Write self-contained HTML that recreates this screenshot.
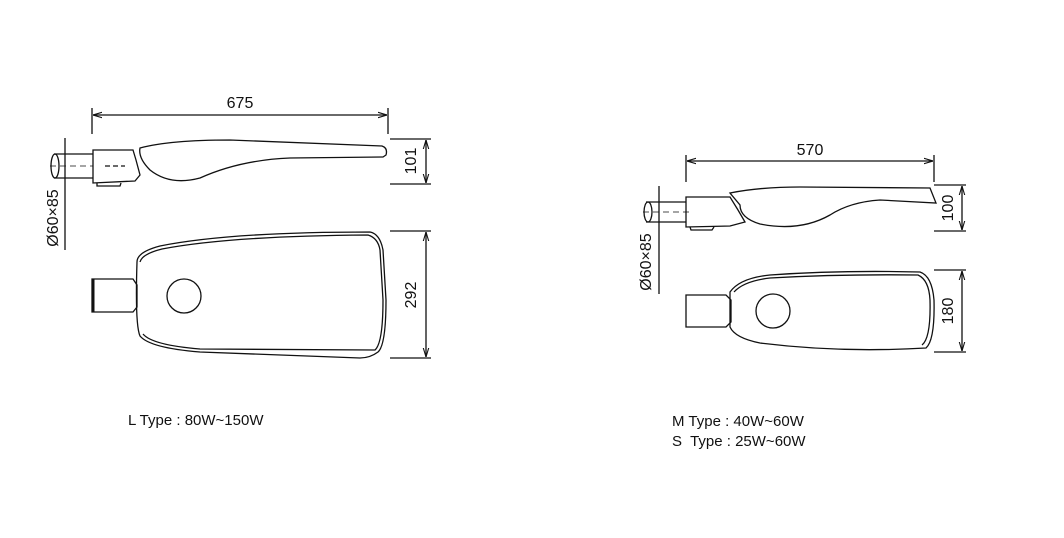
<!DOCTYPE html>
<html><head><style>
body{margin:0;background:#fff;width:1064px;height:538px;overflow:hidden}
svg{display:block}
text{font-family:"Liberation Sans",sans-serif;fill:#111}
</style></head><body>
<svg width="1064" height="538" viewBox="0 0 1064 538" xmlns="http://www.w3.org/2000/svg">
<defs><marker id="a" viewBox="0 0 10 10" refX="10" refY="5" markerWidth="7" markerHeight="7" orient="auto-start-reverse"><path d="M0,2 L10,5 L0,8" fill="none" stroke="#111" stroke-width="1.2"/></marker></defs>
<g stroke="#111" stroke-width="1.3" fill="none">
<line x1="92" y1="108" x2="92" y2="134"/><line x1="388" y1="108" x2="388" y2="134"/>
<line x1="93" y1="115" x2="387" y2="115" marker-start="url(#a)" marker-end="url(#a)"/>
<line x1="390" y1="139" x2="431" y2="139"/><line x1="390" y1="184" x2="431" y2="184"/>
<line x1="426" y1="140" x2="426" y2="183" marker-start="url(#a)" marker-end="url(#a)"/>
<line x1="390" y1="231" x2="431" y2="231"/><line x1="390" y1="358" x2="431" y2="358"/>
<line x1="426" y1="232" x2="426" y2="357" marker-start="url(#a)" marker-end="url(#a)"/>
<line x1="65" y1="138" x2="65" y2="250"/>
<path d="M54,154 L93,154 M54,178 L93,178"/><ellipse cx="55" cy="166" rx="4" ry="12"/>
<path d="M50,166 L93,166" stroke-dasharray="6,4" stroke-width="0.8"/>
<path d="M93,150 L133,150 L136,160 L140,175 L135,181 L93,183 Z"/>
<path d="M97,183 L97,186 L120,186 L121,183"/>
<path d="M140,148 Q170,140 230,140 L382,146 Q388,148 386,155 L383,157 L290,158 Q240,160 200,178 Q170,186 150,170 Q138,158 140,148 Z"/>
<path d="M105,166 L125,166" stroke-dasharray="5,3"/>
<path d="M137,262 Q137,252 160,246 Q230,232 370,232 Q380,234 383,250 L386,300 Q386,345 378,352 Q370,358 360,358 L200,352 Q150,348 140,336 Q135,325 137,262 Z"/>
<path d="M140,262 Q142,254 162,249 Q230,236 368,235 Q378,238 380,250 L383,300 Q383,343 375,350 L200,349 Q152,345 143,334"/>
<path d="M92,279 L133,279 L137,285 L137,307 L133,312 L92,312 Z"/><line x1="93" y1="279" x2="93" y2="312" stroke-width="3"/>
<circle cx="184" cy="296" r="17"/>
<line x1="686" y1="155" x2="686" y2="182"/><line x1="934" y1="155" x2="934" y2="182"/>
<line x1="687" y1="161" x2="933" y2="161" marker-start="url(#a)" marker-end="url(#a)"/>
<line x1="934" y1="185" x2="966" y2="185"/><line x1="934" y1="231" x2="966" y2="231"/>
<line x1="962" y1="186" x2="962" y2="230" marker-start="url(#a)" marker-end="url(#a)"/>
<line x1="934" y1="270" x2="966" y2="270"/><line x1="934" y1="352" x2="966" y2="352"/>
<line x1="962" y1="271" x2="962" y2="351" marker-start="url(#a)" marker-end="url(#a)"/>
<line x1="659" y1="186" x2="659" y2="294"/>
<path d="M646,202 L686,202 M646,222 L686,222"/><ellipse cx="648" cy="212" rx="4" ry="10"/>
<path d="M643,212 L693,212" stroke-dasharray="6,4" stroke-width="0.8"/>
<path d="M686,197 L730,197 L738,210 L745,222 L730,226 L686,227 Z"/>
<path d="M690,227 L691,230 L712,230 L714,227"/>
<path d="M730,193 Q760,187 800,187 L930,188 L936,203 L880,200 Q850,202 830,215 Q800,232 760,224 Q740,218 740,205 Z"/>
<path d="M730,292 Q740,278 770,275 Q840,270 920,272 Q932,276 934,300 Q935,340 926,348 Q840,353 760,343 Q735,338 730,327 Z"/>
<path d="M734,292 Q744,281 770,278 Q840,274 918,275 Q929,280 930,300 Q931,338 922,345"/>
<path d="M686,295 L726,295 L731,300 L731,322 L726,327 L686,327 Z"/>
<circle cx="773" cy="311" r="17"/>
</g>
<g font-size="16">
<text x="240" y="108" text-anchor="middle">675</text>
<text x="810" y="155" text-anchor="middle">570</text>
<text transform="translate(416,161) rotate(-90)" text-anchor="middle">101</text>
<text transform="translate(416,295) rotate(-90)" text-anchor="middle">292</text>
<text transform="translate(953,208) rotate(-90)" text-anchor="middle">100</text>
<text transform="translate(953,311) rotate(-90)" text-anchor="middle">180</text>
<text transform="translate(58,218) rotate(-90)" text-anchor="middle">Ø60×85</text>
<text transform="translate(651,262) rotate(-90)" text-anchor="middle">Ø60×85</text>
<text x="128" y="425" font-size="15">L Type : 80W~150W</text>
<text x="672" y="426" font-size="15">M Type : 40W~60W</text>
<text x="672" y="446" font-size="15" xml:space="preserve">S  Type : 25W~60W</text>
</g>
</svg>
</body></html>
